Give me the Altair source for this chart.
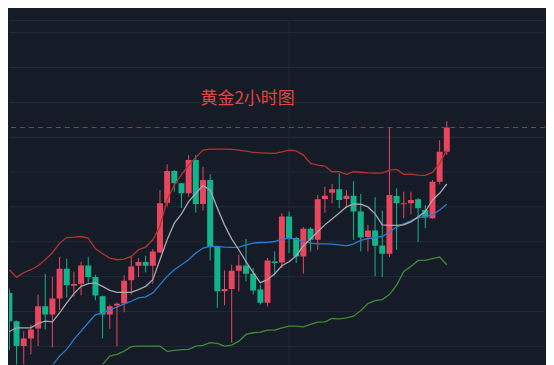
import altair as alt
import pandas as pd

# ---- candle data (2-hour gold) ----
opens = [2373.87, 2371.03, 2368.53, 2369.3, 2370.3, 2372.53, 2371.7, 2373.3, 2376.3, 2374.6,
         2374.8, 2376.63, 2375.47, 2373.53, 2371.7, 2372.6, 2372.8, 2375.13, 2376.6, 2376.97,
         2376.6, 2377.93, 2382.93, 2386.1, 2384.87, 2383.87, 2387.2, 2382.8, 2385.2, 2378.47,
         2374.03, 2374.27, 2376.1, 2376.63, 2375.8, 2374.2, 2372.87, 2377.03, 2376.93, 2381.53,
         2379.37, 2377.53, 2380.3, 2379.2, 2383.3, 2383.93, 2384.27, 2383.3, 2383.63, 2382.03,
         2379.47, 2380.13, 2378.63, 2377.8, 2383.6, 2382.77, 2382.87, 2383.27, 2382.2, 2381.37,
         2385.03, 2388.03]
closes = [2371.03, 2368.53, 2369.3, 2370.2, 2372.53, 2371.7, 2373.3, 2376.3, 2374.63, 2374.77,
          2376.63, 2375.47, 2373.6, 2371.7, 2372.53, 2372.77, 2375.1, 2376.53, 2376.97, 2376.6,
          2378.03, 2382.87, 2386.1, 2384.87, 2383.87, 2387.2, 2382.8, 2385.2, 2378.53, 2374.03,
          2374.27, 2376.1, 2376.63, 2375.8, 2374.1, 2372.87, 2377.13, 2376.87, 2381.53, 2379.37,
          2377.53, 2380.3, 2379.2, 2383.27, 2383.63, 2384.27, 2383.2, 2383.63, 2382.03, 2379.43,
          2380.13, 2378.6, 2377.8, 2383.7, 2382.87, 2382.87, 2383.2, 2382.37, 2381.43, 2385.03,
          2388.03, 2390.47]
highs = [2374.3, 2371.1, 2370.03, 2370.7, 2373.7, 2375.8, 2375.5, 2377.5, 2377.3, 2376.0,
         2377.0, 2377.5, 2375.7, 2373.6, 2372.7, 2372.93, 2375.63, 2377.47, 2377.37, 2377.6,
         2378.27, 2384.2, 2386.77, 2386.2, 2384.9, 2387.7, 2387.7, 2386.53, 2385.77, 2378.5,
         2376.13, 2376.7, 2377.7, 2379.27, 2376.37, 2374.7, 2377.37, 2378.03, 2381.87, 2382.03,
         2379.5, 2380.47, 2380.47, 2383.7, 2384.53, 2384.8, 2385.87, 2384.2, 2385.1, 2383.8,
         2380.7, 2383.47, 2382.13, 2390.47, 2384.37, 2384.03, 2384.03, 2383.37, 2382.7, 2385.2,
         2389.2, 2391.1]
lows = [2368.13, 2366.4, 2366.4, 2367.7, 2368.53, 2370.2, 2368.4, 2372.13, 2373.4, 2373.5,
        2373.63, 2374.9, 2373.13, 2369.3, 2370.27, 2368.53, 2371.93, 2373.7, 2375.47, 2375.93,
        2374.77, 2377.87, 2382.53, 2384.03, 2382.4, 2383.53, 2381.93, 2382.13, 2377.13, 2372.37,
        2372.63, 2368.87, 2374.03, 2375.03, 2373.7, 2372.7, 2372.53, 2375.6, 2376.37, 2377.87,
        2376.87, 2375.8, 2378.03, 2378.2, 2381.93, 2382.87, 2382.37, 2382.37, 2379.2, 2378.03,
        2378.03, 2375.53, 2375.47, 2377.47, 2378.2, 2381.37, 2381.77, 2378.97, 2380.37, 2381.3,
        2384.77, 2387.7]

# ---- indicators ----
ma_fast = [2370.0, 2370.37, 2370.37, 2370.37, 2370.8, 2371.03, 2370.97, 2371.87, 2372.87, 2373.8,
           2374.53, 2374.8, 2374.87, 2374.53, 2374.13, 2373.93, 2373.93, 2373.93, 2374.2, 2374.53,
           2375.2, 2377.2, 2379.2, 2380.87, 2381.8, 2383.03, 2383.87, 2384.65, 2384.2, 2382.4,
           2380.7, 2379.3, 2378.2, 2377.0, 2375.9, 2374.9, 2375.2, 2375.8, 2376.6, 2377.0,
           2377.6, 2378.6, 2379.3, 2380.0, 2380.7, 2381.3, 2381.9, 2382.5, 2382.8, 2382.77,
           2382.5, 2381.8, 2380.7, 2380.65, 2380.65, 2380.7, 2381.0, 2381.5, 2382.03, 2383.2,
           2383.87, 2384.8]
ma_slow = [None] * 5 + [
           2366.0, 2366.6, 2367.53, 2368.2, 2369.2, 2370.03, 2370.87, 2371.7, 2371.87, 2372.2,
           2372.43, 2372.77, 2373.03, 2373.37, 2373.47, 2373.87, 2374.7, 2375.53, 2376.2, 2376.7,
           2377.2, 2377.87, 2378.37, 2378.53, 2378.53, 2378.47, 2378.43, 2378.47, 2378.7, 2378.87,
           2378.93, 2378.95, 2379.03, 2379.27, 2379.37, 2379.27, 2379.03, 2378.87, 2378.8, 2378.8,
           2378.77, 2378.7, 2378.6, 2378.8, 2379.15, 2379.33, 2379.43, 2379.53, 2379.95, 2380.5,
           2380.8, 2381.1, 2381.43, 2381.53, 2381.7, 2382.2, 2382.77]
boll_upper = [2376.2, 2375.43, 2375.9, 2376.2, 2376.6, 2377.2, 2377.9, 2378.87, 2379.43, 2379.47,
              2379.53, 2379.37, 2378.3, 2377.8, 2377.37, 2377.2, 2377.27, 2377.53, 2378.2, 2378.47,
              2379.2, 2380.53, 2383.2, 2384.7, 2385.75, 2386.7, 2387.47, 2388.2, 2388.3, 2388.3,
              2388.3, 2388.27, 2388.2, 2388.1, 2387.97, 2387.93, 2387.9, 2387.87, 2388.03, 2388.2,
              2388.13, 2387.7, 2386.87, 2386.7, 2386.6, 2386.03, 2386.03, 2385.77, 2386.03, 2385.98,
              2385.92, 2385.9, 2385.9, 2386.2, 2386.27, 2385.77, 2385.8, 2385.7, 2385.67, 2385.97,
              2386.87, 2388.2]
boll_lower = [None] * 12 + [
              2366.0, 2366.7, 2367.53, 2367.7, 2368.03, 2368.47, 2368.53, 2368.53, 2368.53, 2368.53,
              2368.0, 2368.1, 2368.17, 2368.2, 2368.53, 2368.6, 2368.87, 2368.8, 2368.53, 2368.63,
              2369.03, 2369.7, 2369.87, 2369.93, 2370.13, 2370.13, 2370.37, 2370.53, 2370.53, 2370.47,
              2370.7, 2370.93, 2370.97, 2371.3, 2371.27, 2371.37, 2371.53, 2372.1, 2372.8, 2373.1,
              2373.2, 2373.7, 2374.65, 2376.03, 2376.53, 2377.13, 2377.13, 2377.3, 2377.47, 2376.7]

grid_levels = [2401.2, 2400.0, 2396.5, 2393.0, 2389.5, 2386.0, 2382.5, 2379.0, 2375.5, 2372.0, 2368.5]
session_breaks = [39]
title_text = "黄金2小时图"

UP, DOWN = "#e9455f", "#10b58c"
BG = "#161c27"
GRID = "#222a37"

n = len(opens)
candles = pd.DataFrame({
    "idx": list(range(n)), "open": opens, "close": closes, "high": highs, "low": lows,
    "dir": ["up" if c >= o else "down" for o, c in zip(opens, closes)],
})


def series_df(values):
    return pd.DataFrame([{"idx": i, "value": v} for i, v in enumerate(values) if v is not None])


xs = alt.Scale(domain=[0.641, 74.0], nice=False, zero=False)
ys = alt.Scale(domain=[2366.7, 2402.4], nice=False, zero=False)
X = lambda f: alt.X(f, scale=xs, axis=None)
Y = lambda f: alt.Y(f, scale=ys, axis=None)
col = alt.Color("dir:N", scale=alt.Scale(domain=["up", "down"], range=[UP, DOWN]), legend=None)

hgrid = alt.Chart(pd.DataFrame({"level": grid_levels})).mark_rule(
    color=GRID, strokeWidth=1).encode(y=Y("level:Q"))
vgrid = alt.Chart(pd.DataFrame({"idx": session_breaks})).mark_rule(
    color=GRID, strokeWidth=1).encode(x=X("idx:Q"), y=alt.value(12), y2=alt.value(357))

base = alt.Chart(candles)
wicks = base.mark_rule(strokeWidth=1, clip=True).encode(
    x=X("idx:Q"), y=Y("low:Q"), y2="high:Q", color=col)
bodies = base.mark_bar(size=6, clip=True).encode(
    x=X("idx:Q"), y=Y("open:Q"), y2="close:Q", color=col)


def line_layer(values, color):
    return alt.Chart(series_df(values)).mark_line(
        strokeWidth=1.3, clip=True, color=color).encode(x=X("idx:Q"), y=Y("value:Q"))


upper_line = line_layer(boll_upper, "#b0352f")
lower_line = line_layer(boll_lower, "#3e8a3b")
slow_line = line_layer(ma_slow, "#2a7cce")
fast_line = line_layer(ma_fast, "#a8a8ad")

last_price = alt.Chart(pd.DataFrame({"price": [closes[-1]]})).mark_rule(
    color="#8a3d52", strokeWidth=1, strokeDash=[5, 4]
).encode(y=Y("price:Q"))

title = alt.Chart(pd.DataFrame({"t": [title_text]})).mark_text(
    font="Noto Sans CJK SC", fontSize=17, color="#e0443c", align="center", baseline="middle"
).encode(x=alt.value(239.5), y=alt.value(91), text="t:N")

chart = alt.layer(
    hgrid, vgrid, wicks, bodies, upper_line, lower_line, slow_line, fast_line, last_price, title
).properties(
    width=538, height=357, background=BG, padding=0,
).configure_view(stroke=None)

chart.save("out.html", embed_options={"renderer": "svg", "actions": False})
